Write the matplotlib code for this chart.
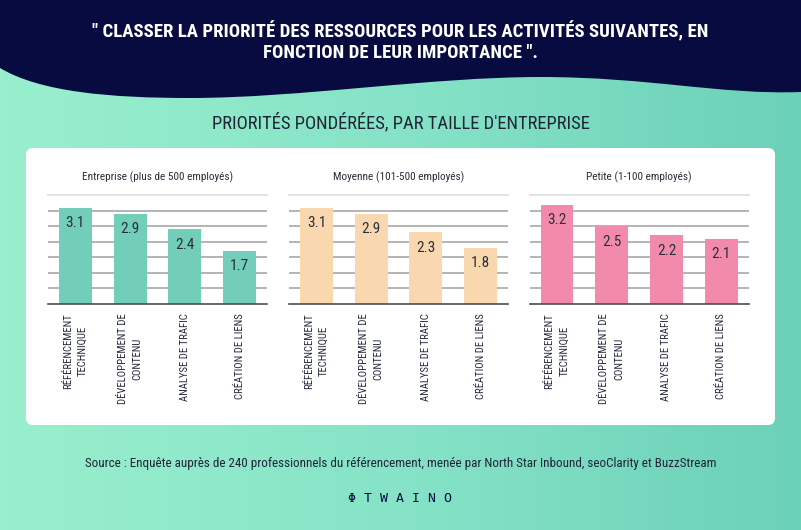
import matplotlib
matplotlib.use("Agg")
import matplotlib.pyplot as plt
import numpy as np
from matplotlib import font_manager
from matplotlib.path import Path
from matplotlib.patches import PathPatch, FancyBboxPatch

# data
categories = ["RÉFÉRENCEMENT\nTECHNIQUE", "DÉVELOPPEMENT DE\nCONTENU",
              "ANALYSE DE TRAFIC", "CRÉATION DE LIENS"]
panel_titles = ["Entreprise (plus de 500 employés)",
                "Moyenne (101-500 employés)",
                "Petite (1-100 employés)"]
entreprise = [3.1, 2.9, 2.4, 1.7]
moyenne = [3.1, 2.9, 2.3, 1.8]
petite = [3.2, 2.5, 2.2, 2.1]
bar_colors = ["#72cdb9", "#fad8af", "#f28bab"]

title1 = "\" CLASSER LA PRIORITÉ DES RESSOURCES POUR LES ACTIVITÉS SUIVANTES, EN"
title2 = "FONCTION DE LEUR IMPORTANCE \"."
subtitle = "PRIORITÉS PONDÉRÉES, PAR TAILLE D'ENTREPRISE"
source = "Source : Enquête auprès de 240 professionnels du référencement, menée par North Star Inbound, seoClarity et BuzzStream"


# pick a narrow font if one is installed
def pick_font():
    names = {f.name for f in font_manager.fontManager.ttflist}
    for n in ["Liberation Sans Narrow", "Roboto Condensed", "Open Sans Condensed",
              "Noto Sans Condensed", "DejaVu Sans Condensed"]:
        if n in names:
            return n, "normal"
    for f in font_manager.fontManager.ttflist:
        if str(f.stretch) in ("condensed", "semi-condensed", "extra-condensed") and \
                f.name in ("Noto Sans", "DejaVu Sans", "Open Sans", "Roboto"):
            return f.name, f.stretch
    return "Roboto", "normal"


fname, fstretch = pick_font()
narrow = [fname, "DejaVu Sans"]
navy = "#070b40"
ink = "#1e2436"

W, H = 801, 530
fig = plt.figure(figsize=(W / 100, H / 100), dpi=100)
renderer = fig.canvas.get_renderer()


def fit(t, target):
    w = t.get_window_extent(renderer).width
    t.set_fontsize(t.get_fontsize() * target / w)


# background
bg = fig.add_axes([0, 0, 1, 1], zorder=0)
bg.set_xlim(0, W)
bg.set_ylim(H, 0)
bg.axis("off")
grad = np.linspace(0, 1, 256)[None, :]
cmap = matplotlib.colors.LinearSegmentedColormap.from_list("bg", ["#99efcd", "#86e3c7", "#6bd1b8"])
bg.imshow(grad, extent=[0, W, H, 0], cmap=cmap, aspect="auto")

# wavy header
verts = [(0, 0), (0, 68),
         (40, 92), (110, 98), (190, 98),
         (300, 98), (430, 77), (540, 77),
         (650, 77), (720, 95), (801, 92),
         (801, 0), (0, 0)]
codes = [Path.MOVETO, Path.LINETO,
         Path.CURVE4, Path.CURVE4, Path.CURVE4,
         Path.CURVE4, Path.CURVE4, Path.CURVE4,
         Path.CURVE4, Path.CURVE4, Path.CURVE4,
         Path.LINETO, Path.CLOSEPOLY]
bg.add_patch(PathPatch(Path(verts, codes), facecolor=navy, edgecolor="none"))

# white panel
bg.add_patch(FancyBboxPatch((26, 148), 749, 277, boxstyle="round,pad=0,rounding_size=7",
                            facecolor="white", edgecolor="none"))

t1 = bg.text(W / 2, 31, title1, color="white", fontsize=13, fontweight="bold", family=narrow,
             fontstretch=fstretch, ha="center", va="center")
fit(t1, 611)
t2 = bg.text(W / 2, 53, title2, color="white", fontsize=t1.get_fontsize(), fontweight="bold",
             family=narrow, fontstretch=fstretch, ha="center", va="center")
st = bg.text(W / 2, 123, subtitle, color=ink, fontsize=13, family=narrow, fontstretch=fstretch,
             ha="center", va="center")
fit(st, 379)
src = bg.text(W / 2, 463, source, color=ink, fontsize=9, family=narrow, fontstretch=fstretch,
              ha="center", va="center")
fit(src, 629)
bg.text(W / 2, 498, "Φ T W A I N O", color=navy, fontsize=9.5, family="DejaVu Sans Mono",
        ha="center", va="center")

# tick label size so that "DÉVELOPPEMENT DE" is about 90 px long
probe = bg.text(0, 0, "DÉVELOPPEMENT DE", fontsize=8, family=narrow, fontstretch=fstretch)
tick_fs = 8 * 90 / probe.get_window_extent(renderer).width
probe.remove()
probe = bg.text(0, 0, panel_titles[0], fontsize=8, family=narrow, fontstretch=fstretch)
title_fs = 8 * 151 / probe.get_window_extent(renderer).width
probe.remove()

# bar panels
series = [entreprise, moyenne, petite]
lefts = [48, 289, 529.6]
x = np.arange(len(categories))
for i in range(3):
    ax = fig.add_axes([lefts[i] / W, (H - 303.5) / H, 219 / W, 108.2 / H], zorder=2)
    ax.patch.set_alpha(0)
    ax.set_xlim(-0.5, 3.5)
    ax.set_ylim(0, 3.5)
    for g in np.arange(0.5, 3.01, 0.5):
        ax.axhline(g, color="#a8a8a8", lw=1.2, zorder=0)
    ax.axhline(3.5, color="#dddddd", lw=1.2, zorder=0, clip_on=False)
    ax.axhline(0, color="#4d4d4d", lw=1.2, zorder=3, clip_on=False)
    bars = ax.bar(x, series[i], width=0.6, color=bar_colors[i], zorder=2)
    for b, v in zip(bars, series[i]):
        ax.annotate(f"{v}", (b.get_x() + b.get_width() / 2, v), xytext=(0, -6),
                    textcoords="offset points", ha="center", va="top",
                    fontsize=11, family=narrow, fontstretch=fstretch,
                    color="#2a2e3a", zorder=4)
    ax.set_xticks(x)
    ax.set_xticklabels(categories, rotation=90, va="top", ha="center",
                       multialignment="center", linespacing=1.6, fontsize=tick_fs,
                       family=narrow, fontstretch=fstretch, color="#23283a")
    ax.tick_params(axis="x", length=0, pad=7)
    ax.set_yticks([])
    for s in ax.spines.values():
        s.set_visible(False)
    ax.text(1.5, 4.1, panel_titles[i], ha="center", va="center", fontsize=title_fs,
            family=narrow, fontstretch=fstretch, color="#2a2e3a")

fig.savefig("out.png", dpi=100)
